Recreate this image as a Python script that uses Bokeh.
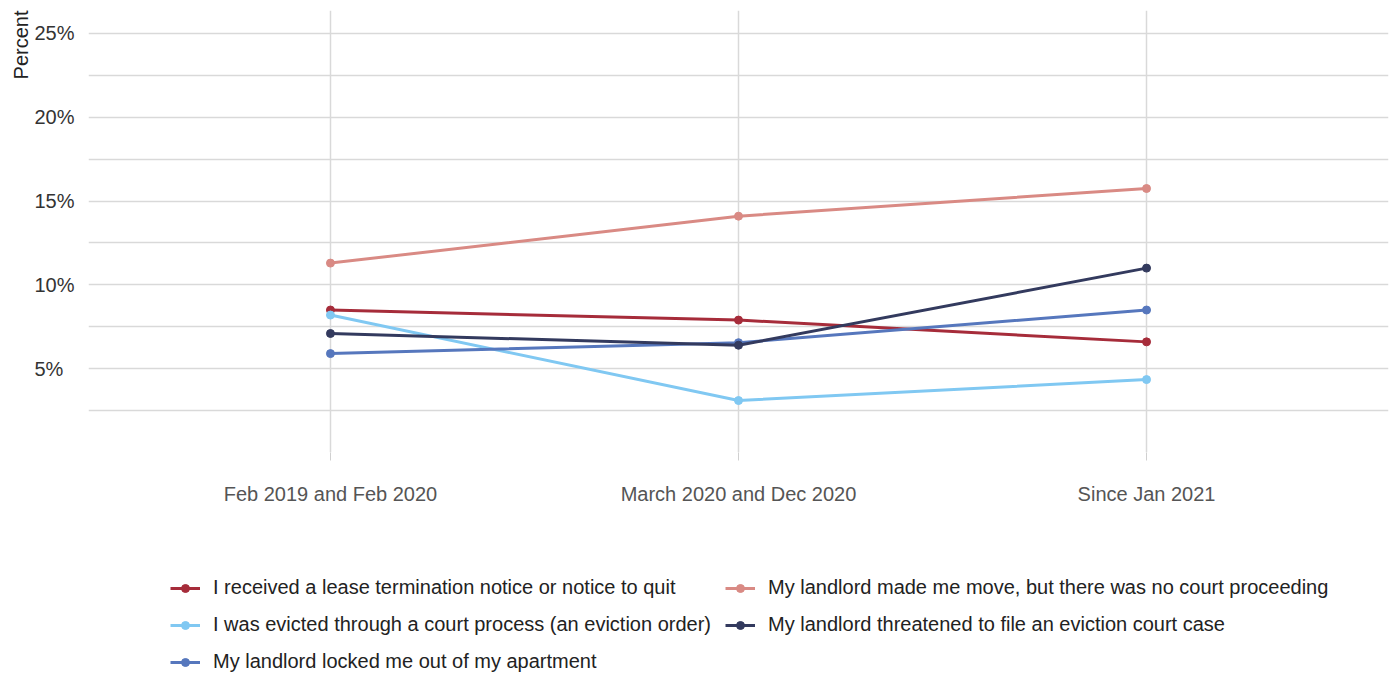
from bokeh.plotting import figure
from bokeh.layouts import column
from bokeh.models import Range1d, FixedTicker, Legend, LegendItem, Title
from bokeh.embed import file_html
from bokeh.resources import INLINE

periods = ["Feb 2019 and Feb 2020", "March 2020 and Dec 2020", "Since Jan 2021"]
y_ticks = [5, 10, 15, 20, 25]
y_tick_labels = ["5%\u2007", "10%", "15%", "20%", "25%"]
grid_ticks = [0, 2.5, 5, 7.5, 10, 12.5, 15, 17.5, 20, 22.5, 25]

lease_notice = [8.5, 7.9, 6.6]
made_move = [11.3, 14.1, 15.75]
court_evicted = [8.2, 3.1, 4.35]
threatened = [7.1, 6.4, 11.0]
locked_out = [5.9, 6.55, 8.5]

series = [
    ("I received a lease termination notice or notice to quit", lease_notice, "#A62C3A"),
    ("My landlord made me move, but there was no court proceeding", made_move, "#D98A84"),
    ("I was evicted through a court process (an eviction order)", court_evicted, "#80C8F2"),
    ("My landlord threatened to file an eviction court case", threatened, "#333A5E"),
    ("My landlord locked me out of my apartment", locked_out, "#5677BD"),
]
draw_order = [1, 0, 2, 4, 3]
legend_order = [0, 2, 4, 1, 3]

FONT = "Liberation Sans"
xs = list(range(len(periods)))

p = figure(frame_width=1300, frame_height=442, output_backend="svg", toolbar_location=None,
           x_range=Range1d(-0.593, 2.593), y_range=Range1d(0, 26.37),
           min_border_left=88, min_border_right=7, min_border_top=10, min_border_bottom=55)
p.outline_line_color = None
p.background_fill_color = "white"

for i in draw_order:
    name, vals, col = series[i]
    p.line(xs, vals, line_color=col, line_width=3)
    p.scatter(xs, vals, size=8, fill_color=col, line_color=col)

p.xaxis.ticker = FixedTicker(ticks=xs)
p.xaxis.major_label_overrides = {i: s for i, s in enumerate(periods)}
p.xaxis.axis_line_color = None
p.xaxis.major_tick_line_color = "#d0d0d0"
p.xaxis.major_tick_in = 0
p.xaxis.major_tick_out = 8
p.xaxis.minor_tick_line_color = None
p.xaxis.major_label_text_font = FONT
p.xaxis.major_label_text_font_size = "20px"
p.xaxis.major_label_text_color = "#555555"
p.xaxis.major_label_standoff = 22

p.yaxis.ticker = FixedTicker(ticks=y_ticks)
p.yaxis.major_label_overrides = {t: s for t, s in zip(y_ticks, y_tick_labels)}
p.yaxis.axis_line_color = None
p.yaxis.major_tick_line_color = None
p.yaxis.minor_tick_line_color = None
p.yaxis.major_label_text_font = FONT
p.yaxis.major_label_text_font_size = "20px"
p.yaxis.major_label_text_color = "#333333"
p.yaxis.major_label_standoff = 8

p.ygrid.ticker = FixedTicker(ticks=grid_ticks)
p.ygrid.grid_line_color = "#d9d9d9"
p.ygrid.grid_line_width = 1.5
p.xgrid.grid_line_color = "#d9d9d9"
p.xgrid.grid_line_width = 1.5

p.add_layout(Title(text="Percent", align="right", text_font=FONT, text_font_size="20px",
                   text_font_style="normal", text_color="#222222", standoff=0, offset=0), "left")

# legend holder figure (renderers hidden, only used for legend swatches)
lg = figure(frame_width=1395, frame_height=170, output_backend="svg", toolbar_location=None,
            x_range=Range1d(-0.593, 2.593), y_range=Range1d(0, 26.37),
            x_axis_type=None, y_axis_type=None, min_border=0)
lg.outline_line_color = None
lg.xgrid.visible = False
lg.ygrid.visible = False

items = []
for i in legend_order:
    name, vals, col = series[i]
    r1 = lg.line(xs, vals, line_color=col, line_width=3, visible=False)
    r2 = lg.scatter(xs, vals, size=8, fill_color=col, line_color=col, visible=False)
    items.append(LegendItem(label=name, renderers=[r1, r2]))

legend = Legend(items=items, ncols=2, location=(170, 4), orientation="vertical",
                label_text_font=FONT, label_text_font_size="20px", label_text_color="#222222",
                glyph_width=30, glyph_height=20, label_height=20, spacing=14,
                label_standoff=13, inactive_fill_alpha=0,
                border_line_color=None, background_fill_alpha=0,
                margin=0, padding=0)
lg.add_layout(legend)

layout = column(p, lg, spacing=0)
open("out.html", "w").write(file_html(layout, INLINE))
